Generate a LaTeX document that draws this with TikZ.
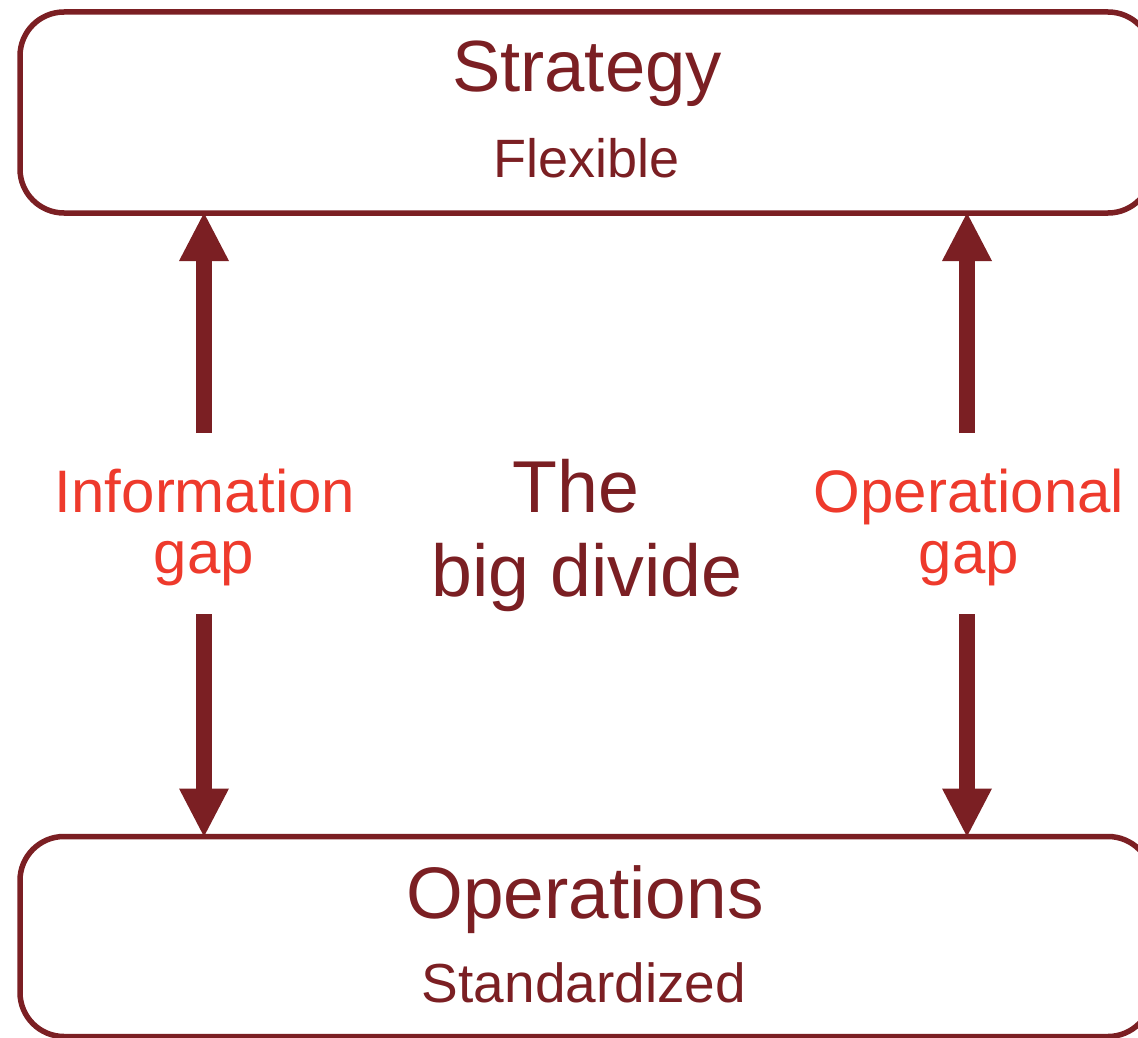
\documentclass[tikz,border=0pt]{standalone}
\usepackage{fontspec}
\setmainfont{Liberation Sans}
\usetikzlibrary{arrows.meta}
\definecolor{dred}{HTML}{7B1F23}
\definecolor{bred}{HTML}{EE3A2C}
\begin{document}
\begin{tikzpicture}[x=1pt,y=-1pt,
  box/.style={draw=dred, line width=5.5pt, rounded corners=44pt, minimum width=1132pt, inner sep=0pt, outer sep=0pt},
  bigarrow/.style={draw=dred, line width=16pt, -{Triangle[width=50pt,length=48pt,line width=0pt]}},
  txt/.style={anchor=base, inner sep=0pt, text=dred},
  gaptxt/.style={anchor=base, inner sep=0pt, text=bred}]
\useasboundingbox (0,0) rectangle (1138,1038);
\node[box, minimum height=201pt] (top) at (586,112.5) {};
\node[box, minimum height=200pt] (bot) at (586,936.5) {};
\node[txt, font=\fontsize{72.5}{86}\selectfont] (strat) at (587,92) {Strategy};
\node[txt, font=\fontsize{54}{64}\selectfont] (flex) at (587,177) {Flexible};
\node[txt, font=\fontsize{73}{86}\selectfont] (opsn) at (585,918) {Operations};
\node[txt, font=\fontsize{55}{66}\selectfont] (std) at (584,1002) {Standardized};
\node[gaptxt, font=\fontsize{60}{72}\selectfont] (info1) at (205,512) {Information};
\node[gaptxt, font=\fontsize{60}{72}\selectfont] (info2) at (204,573) {gap};
\node[gaptxt, font=\fontsize{60}{72}\selectfont] (op1) at (969,512) {Operational};
\node[gaptxt, font=\fontsize{60}{72}\selectfont] (op2) at (969,573) {gap};
\node[txt, font=\fontsize{73.5}{88}\selectfont] (the) at (576,512) {The};
\node[txt, font=\fontsize{73.5}{88}\selectfont] (bigd) at (587,596) {big divide};
\coordinate (lu) at (204,433);
\coordinate (ld) at (204,614);
\coordinate (ru) at (967,433);
\coordinate (rd) at (967,614);
\draw[bigarrow] (lu) -- (lu |- top.south);
\draw[bigarrow] (ld) -- (ld |- bot.north);
\draw[bigarrow] (ru) -- (ru |- top.south);
\draw[bigarrow] (rd) -- (rd |- bot.north);
\end{tikzpicture}
\end{document}
